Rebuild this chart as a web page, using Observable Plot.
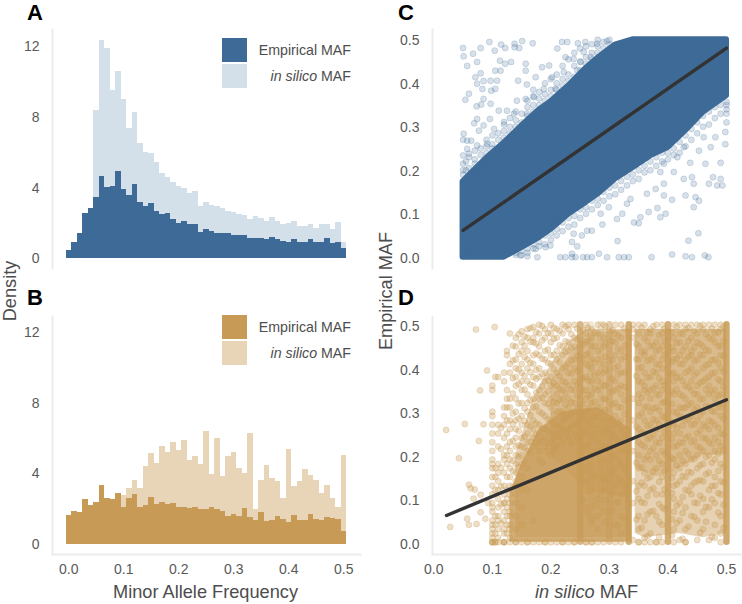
<!DOCTYPE html>
<html><head><meta charset="utf-8">
<script src="https://cdn.jsdelivr.net/npm/d3@7"></script>
<script src="https://cdn.jsdelivr.net/npm/@observablehq/plot@0.6"></script>
<style>
html,body{margin:0;background:#fff}
#chart{position:relative;width:742px;height:604px;overflow:hidden;font-family:"Liberation Sans",Arial,sans-serif;color:#4d4d4d}
#chart svg{position:absolute;background:none}
.tag{position:absolute;font-weight:bold;font-size:22px;line-height:22px;color:#000}
.title{position:absolute;font-size:18.2px;line-height:20px;white-space:nowrap;color:#4d4d4d}
.sw{position:absolute;width:25px;height:24px}
.lg{position:absolute;right:391px;font-size:14.2px;line-height:16px;white-space:nowrap;color:#4d4d4d}
</style></head><body><div id="chart"></div>
<script>
const binStart=[0,.01,.02,.03,.04,.05,.06,.07,.08,.09,.1,.11,.12,.13,.14,.15,.16,.17,.18,.19,.2,.21,.22,.23,.24,.25,.26,.27,.28,.29,.3,.31,.32,.33,.34,.35,.36,.37,.38,.39,.4,.41,.42,.43,.44,.45,.46,.47,.48,.49,.5];
const aEmpirical=[.45,.9,1.43,2.57,2.85,3.45,4.66,4.06,4.11,4.92,3.92,3.58,4.19,3.17,2.98,3.13,2.7,2.5,2.58,2.2,2.02,2.13,1.96,1.94,1.47,1.68,1.57,1.42,1.45,1.45,1.32,1.32,1.32,1.17,1.17,1.17,1.09,1.19,1.08,.96,.94,1.09,.92,.92,1.09,.92,.94,1.13,.87,.92,.57];
const aInSilico=[0,0,0,0,0,8.38,12.34,11.92,9.5,10.6,9,7.36,8.26,6.53,6.04,5.98,5.43,4.83,4.62,4.34,4.09,3.96,3.7,3.79,2.94,3.17,3,2.96,2.85,2.66,2.6,2.53,2.43,2.25,2.42,2.28,2.1,2.36,2.1,1.94,2,2.13,1.85,1.85,1.96,1.74,1.92,1.96,1.68,2.04,.9];
const bEmpirical=[1.64,1.85,1.8,2.51,2.17,2.34,3.34,2.6,2.53,2.87,2.1,2.59,2.81,2.11,2.17,2.64,2.27,2.34,2.27,2.3,2.11,2.1,2.02,2.06,1.98,1.96,2.11,1.95,1.87,1.57,1.66,1.55,2.02,1.53,1.32,1.78,1.3,1.34,1.6,1.38,1.21,1.64,1.34,1.36,1.7,1.38,1.32,1.49,1.45,1.42,.7];
const bInSilico=[0,0,0,0,0,0,0,0,0,0,2.74,3.19,3.6,3.17,4.42,5.14,4.57,5.55,5.2,5.78,5.3,5.9,4.76,4.95,4.54,6.4,3.97,6,3.82,5,5.22,4.29,4,6.3,1.96,3.6,4.46,3.72,3.57,2.59,5.38,3.25,3.55,4.23,3.91,3.6,2.87,3.35,2.59,2.11,5.03];
const histTicksY=[0,4,8,12], mafTicks=[0,.1,.2,.3,.4,.5];

const cBandX=[.05,.07,.09,.12,.15,.18,.2,.23,.26,.28,.31,.34,.37,.4,.43,.46,.48,.5];
const cBandTop=[.173,.2,.227,.262,.301,.338,.357,.393,.434,.457,.488,.5,.5,.5,.5,.5,.5,.5];
const cBandBottom=[0,0,0,0,.022,.045,.064,.099,.126,.145,.18,.206,.233,.252,.291,.333,.352,.371];
const cOutX=[.05,.051,.057,.067,.08,.095,.115,.104,.122,.138,.138,.151,.169,.146,.074,.113,.122,.132,.105,.114,.08,.157,.157,.071,.085,.097,.108,.074,.083,.098,.105,.144,.159,.174,.06,.054,.085,.073,.081,.097,.111,.125,.142,.157,.074,.096,.069,.051,.05,.057,.064,.077,.085,.103,.12,.074,.05,.06,.091,.057,.185,.197,.211,.219,.228,.246,.259,.279,.296,.225,.222,.239,.245,.202,.188,.171,.208,.137,.159,.256,.268,.251,.498,.481,.49,.477,.49,.47,.484,.493,.464,.438,.453,.473,.427,.441,.444,.43,.447,.453,.444,.407,.387,.396,.382,.367,.353,.342,.35,.393,.379,.393,.364,.336,.33,.322,.313,.452,.435,.314,.288,.27,.253,.236,.245,.191,.199,.216,.225,.236,.236,.242,.255,.262,.27,.282,.296,.316,.325,.333,.372,.407,.43,.441,.463,.469,.177,.16,.148,.174,.239,.262,.285,.299,.41,.387,.393,.416,.427,.461,.498,.5,.5,.5];
const cOutY=[.481,.462,.44,.468,.481,.495,.489,.475,.481,.491,.483,.497,.492,.481,.449,.452,.445,.449,.429,.429,.423,.445,.429,.414,.405,.406,.406,.399,.387,.383,.387,.406,.397,.414,.376,.362,.364,.347,.351,.353,.337,.337,.36,.364,.318,.318,.308,.284,.27,.268,.268,.291,.303,.295,.311,.257,.234,.238,.261,.249,.437,.441,.48,.495,.495,.492,.495,.491,.497,.46,.426,.456,.43,.414,.387,.368,.387,.33,.33,.472,.46,.449,.26,.276,.217,.184,.18,.169,.165,.165,.215,.217,.245,.253,.18,.184,.169,.142,.138,.13,.115,.132,.092,.1,.113,.104,.092,.08,.078,.142,.157,.169,.146,.134,.123,.1,.088,.055,.038,.037,.075,.061,.05,.035,.025,.023,.027,0,0,.008,0,0,0,0,0,.008,0,0,0,0,0,.006,.002,0,.004,0,0,.002,.004,.019,.054,.061,.1,.115,.196,.196,.215,.23,.253,.276,.288,.357,.34,.31];
const cEdgeX=[.05,.05,.05,.055,.055,.06,.06,.07,.07,.07,.08,.08,.09,.09,.09,.1,.1,.1,.11,.11,.12,.12,.12,.13,.13,.13,.14,.14,.14,.15,.15,.16,.16,.16,.17,.17,.17,.17,.18,.18,.18,.19,.19,.19,.2,.2,.2,.21,.21,.21,.22,.22,.22,.23,.23,.23,.24,.24,.24,.25,.25,.25,.26,.26,.26,.27,.27,.27,.28,.28,.28,.29,.29,.3,.3,.14,.14,.15,.15,.16,.16,.17,.17,.18,.18,.19,.19,.2,.2,.21,.21,.22,.22,.23,.23,.24,.24,.25,.25,.26,.26,.27,.27,.28,.28,.29,.29,.3,.3,.31,.31,.32,.32,.33,.33,.34,.34,.35,.35,.36,.36,.37,.37,.38,.38,.39,.39,.4,.4,.41,.41,.42,.42,.43,.43,.44,.44,.45,.45,.46,.46,.47,.47,.48,.48,.49,.49,.5,.5];
const cEdgeY=[.19,.2,.215,.2,.22,.205,.23,.215,.225,.245,.235,.25,.24,.255,.27,.25,.26,.28,.27,.285,.275,.29,.305,.285,.3,.32,.3,.315,.335,.31,.33,.325,.345,.36,.335,.35,.37,.385,.35,.365,.38,.36,.375,.4,.37,.385,.41,.385,.4,.42,.395,.41,.44,.405,.42,.455,.415,.44,.47,.43,.45,.48,.445,.46,.485,.455,.47,.49,.47,.485,.5,.48,.495,.49,.5,.01,.005,.005,.015,.01,.02,.02,.03,.025,.035,.03,.05,.04,.055,.05,.065,.06,.08,.07,.09,.075,.095,.09,.11,.1,.115,.11,.13,.12,.135,.13,.15,.14,.16,.145,.165,.155,.175,.165,.185,.175,.19,.18,.2,.195,.21,.2,.22,.21,.23,.22,.24,.225,.24,.235,.25,.24,.265,.255,.28,.27,.295,.285,.31,.3,.325,.305,.335,.32,.345,.33,.35,.33,.35];
const cFitX=[.05,.5], cFitY=[.0615,.481];

const dFitX=[.0216,.5], dFitY=[.0615,.3275];
const dSolidX=[.13,.15,.18,.22,.28,.337];
const dSolidTop=[.11,.18,.26,.3,.31,.26];
const dHazeX=[.14,.17,.2,.23,.26,.338,.344,.36,.42,.46,.5];
const dHazeTop=[.2,.33,.41,.46,.49,.49,.49,.49,.49,.49,.49];
const dHazeBottom=[.01,.01,.01,.01,.01,.01,.02,.01,.02,.01,.02];
const dHazeSide=[0,0,0,0,0,0,1,1,1,1,1];
const dUpperX=[.2,.26,.338,.344,.38,.42,.46,.5];
const dUpperTop=[.37,.48,.49,.49,.49,.49,.49,.49];
const dUpperBottom=[.2,.12,.1,.17,.15,.17,.2,.2];
const dUpperSide=[0,0,0,1,1,1,1,1];
const dStripeX=[.25,.268,.3,.333,.4,.5,.285];
const dStripeLow=[0,.04,0,0,0,0,.08];
const dStripeHigh=[.5,.5,.5,.5,.5,.5,.5];
const dStripeAlpha=[.7,.25,.5,.8,.8,.85,.25];
const dLooseX=[.021,.053,.072,.104,.091,.079,.085,.077,.043,.06,.063,.07,.08,.068,.08,.057,.06,.073,.028,.088,.093];
const dLooseY=[.258,.272,.489,.495,.395,.349,.271,.233,.193,.132,.124,.121,.109,.1,.069,.054,.04,.042,.035,.054,.09];
const dColX=[.1,.105,.11,.12,.125,.13,.14,.15,.16,.17,.18,.19,.2,.21,.22,.23,.24,.26,.27,.28,.29,.31,.32,.34,.35,.36,.37,.38,.39,.41,.42,.43,.44,.45,.46,.47,.48,.49];
const dColY=[
[.36,.35,.3,.29,.27,.25,.23,.21,.19,.18,.17,.15,.13,.11,.09,.08,.07,.05,.04,.03,.02,.01,0,0,0],
[.38,.17,.15,.12,.06,.04,.02,0,0],
[.38,.27,.25,.22,.18,.16,.14,.12,.1,.08,.06,.05,.03,.01,0],
[.39,.37,.31,.29,.27,.24,.2,.19,.16,.13,.11,.09,.09,.07,.05,.03,.02,0,0,0],
[.44,.43,.35,.33,.31,.28,.25,.22,.2,.18,.15,.12,.1,.08,.06,.04,.02],
[.48,.41,.39,.33,.31,.28,.26,.23,.21,.19,.17,.15,.13,.11,.09,.07,.06,.04,.03,.01,0],
[.47,.45,.42,.4,.38,.36,.33,.3,.28,.26,.24,.22,.2,.18,.16,.14,.13,.11,.09,.06,.03,0,0],
[.485,.46,.44,.41,.39,.37,.35,.32,.29,.27,.24,.22,.2,.18,.15,.12,.08,.04,0],
[.49,.47,.44,.42,.4,.37,.34,.32,.3,.27,.25,.23,.21,.17,.12,0,0],
[.495,.47,.46,.43,.41,.38,.36,.33,.31,.28,.26,.24,.22,.05,0],
[.5,.48,.45,.43,.4,.38,.35,.33,.3,.27,.25,.23,.21,.19,0],
[.49,.47,.44,.42,.39,.37,.34,.32,.29,.26,.24,.22,0,0],
[.5,.48,.46,.43,.41,.38,.36,.33,.31,.28,.25,.23,.2,0],
[.49,.47,.44,.42,.39,.36,.34,.32,.3,.27,.25,.22,0],
[.5,.48,.45,.43,.4,.37,.35,.33,.3,.28,.26,.23,0,0],
[.5,.49,.46,.44,.41,.39,.36,.33,.31,.29,.26,.24,0],
[.5,.47,.45,.42,.4,.37,.35,.32,.3,.27,.25,0,0],
[.5,.48,.46,.43,.41,.38,.35,.33,.3,.28,.25,.22,.14,.08,0,0],
[.49,.47,.45,.42,.4,.37,.34,.32,.29,.27,.24,.2,.16,.12,.05,0,0],
[.5,.48,.44,.42,.39,.37,.35,.31,.29,.26,.23,.21,.1,.06,.03,0],
[.5,.47,.45,.41,.39,.36,.33,.3,.28,.25,.22,.19,.15,.12,.07,0],
[.5,.48,.46,.43,.4,.37,.35,.32,.29,.27,.24,.2,.17,.13,.09,.04,0],
[.5,.47,.44,.42,.39,.36,.34,.31,.28,.26,.23,.21,.18,.14,.11,.06,.02,0],
[.5,.49,.47,.33,.28,.21,.14,.09,.005],
[.5,.48,.45,.42,.4,.37,.34,.32,.29,.26,.23,.2,.17,.13,.1,.06,.03,0,0],
[.5,.47,.44,.43,.39,.36,.35,.31,.28,.25,.22,.19,.16,.13,.09,.05,.01,0],
[.49,.48,.45,.42,.38,.35,.33,.3,.27,.24,.21,.19,.15,.12,.07,.02,0],
[.5,.46,.44,.41,.39,.36,.34,.31,.28,.26,.23,.2,.17,.11,.06,0,0],
[.5,.48,.45,.42,.4,.37,.35,.32,.29,.24,.21,.18,.15,.11,.08,.04,0],
[.5,.47,.44,.42,.39,.37,.34,.3,.27,.25,.22,.19,.16,.13,.1,.07,.03,0],
[.5,.48,.46,.43,.41,.38,.34,.31,.29,.25,.23,.2,.17,.14,.09,.05,.005],
[.5,.49,.45,.42,.39,.36,.33,.31,.28,.24,.21,.18,.15,.12,.08,.03,0,0],
[.5,.47,.44,.43,.4,.37,.35,.32,.29,.27,.23,.19,.16,.13,.11,.06],
[.5,.48,.46,.42,.39,.36,.34,.31,.28,.25,.22,.2,.17,.14,.09,.05,.005],
[.5,.49,.45,.43,.4,.37,.33,.3,.27,.24,.21,.18,.14,.1,.07,.03],
[.5,.47,.44,.41,.38,.36,.34,.31,.28,.26,.23,.2,.16,.12,.08,.005],
[.5,.48,.46,.42,.39,.35,.33,.3,.27,.24,.21,.19,.15,.13,.09,.04,.01],
[.5,.49,.45,.43,.4,.37,.34,.31,.29,.25,.22,.18,.14,.11,.06,.02,0]
];
const dMidX=[.115,.135,.145,.155,.165,.175,.185,.195,.205,.215,.225,.235,.245,.255,.263,.275,.293,.305,.315,.326,.346,.355,.365,.375,.385,.394,.407,.415,.425,.435,.445,.455,.465,.475,.486,.495];
const dMidY=[
[.263,.214,.171,.128,.087,.043],
[.452,.418,.377,.342,.296,.272,.233,.187,.164,.127],
[.478,.433,.397,.364,.319,.284,.256,.223,.196,.173],
[.473,.452,.426,.383,.351,.308,.279,.243,.217,.186],
[.492,.461,.413,.391,.362,.327,.292,.266,.231,.204],
[.483,.457,.434,.396,.376,.344,.312,.273,.247,.228],
[.497,.464,.422,.387,.358,.333,.296,.262,.234,.183],
[.481,.443,.413,.372,.347,.318,.283,.256,.227,.209],
[.493,.468,.431,.398,.366,.323,.294,.271,.238,.214],
[.486,.453,.414,.382,.353,.327,.302,.264,.243],
[.496,.462,.437,.403,.368,.344,.316,.287,.253],
[.478,.447,.418,.388,.351,.322,.298,.266,.229],
[.491,.466,.429,.394,.363,.336,.308,.274,.241],
[.487,.454,.421,.377,.349,.318,.293,.256,.212,.163,.096],
[.493,.463,.434,.406,.372,.338,.307,.268,.226,.176,.118,.067],
[.482,.451,.413,.384,.354,.323,.287,.247,.207,.152,.084],
[.496,.457,.426,.396,.361,.329,.304,.263,.218,.143,.097,.046],
[.488,.463,.418,.376,.346,.317,.282,.251,.196,.157,.112,.072],
[.475,.445,.405,.386,.354,.311,.276,.234,.187,.146,.093,.038],
[.492,.452,.427,.391,.357,.326,.295,.246,.213,.168,.127,.054],
[.456,.421,.382,.266,.183,.117,.052],
[.494,.437,.403,.368,.332,.296,.253,.224,.172,.137,.092,.033],
[.483,.462,.417,.379,.344,.312,.268,.237,.198,.147,.106,.064,.014],
[.497,.452,.425,.393,.354,.308,.283,.246,.216,.163,.124,.072],
[.476,.443,.408,.377,.338,.303,.272,.228,.187,.139,.088,.047,.012],
[.491,.464,.432,.361,.323,.286,.254,.203,.164,.122,.076],
[.483,.447,.414,.386,.347,.318,.276,.237,.193,.148,.113,.053,.016],
[.496,.458,.423,.378,.352,.297,.263,.222,.176,.133,.084,.044],
[.479,.441,.409,.371,.336,.308,.268,.228,.187,.152,.104,.067,.008],
[.493,.463,.427,.394,.357,.316,.283,.244,.203,.162,.118,.036],
[.486,.448,.416,.384,.341,.304,.271,.234,.192,.137,.091,.058],
[.497,.456,.431,.367,.328,.293,.257,.217,.177,.143,.107,.022],
[.478,.442,.407,.376,.351,.313,.266,.238,.196,.156,.081,.047],
[.491,.466,.419,.388,.346,.301,.277,.226,.183,.129,.098,.012],
[.483,.451,.413,.374,.337,.312,.263,.231,.204,.164,.113,.068],
[.496,.462,.428,.392,.357,.318,.284,.247,.212,.173,.137,.086,.033]
];

const blue="#3d6a97", blueLight="#d3e0ea", tan="#c79a55", tanLight="#e8d5b7", edge="#ececec", ink="#595959";
const chart=document.getElementById("chart");
const rows=(e,s)=>binStart.map((b,i)=>({x1:b-.005,x2:b+.005,e:e[i],s:s[i]}));
const font="'Liberation Sans',Arial,sans-serif";

function histogram(e,s,c,cl,top,height,mT,mB,y0,y12,bottom){
  const t=rows(e,s);
  return Plot.plot({width:370,height,marginLeft:52,marginRight:10,marginTop:mT,marginBottom:mB,
    style:{left:"0px",top:top+"px",fontFamily:font},
    x:{domain:[0,.5],range:[68.3,343.3]},y:{domain:[0,12],range:[y0,y12]},
    marks:[
      Plot.rect(t,{x1:"x1",x2:"x2",y1:0,y2:"s",fill:cl,shapeRendering:"crispEdges"}),
      Plot.rect(t,{x1:"x1",x2:"x2",y1:0,y2:"e",fill:c,shapeRendering:"crispEdges"}),
      Plot.frame({anchor:"left",stroke:edge,strokeWidth:2}),
      ...(bottom?[Plot.frame({anchor:"bottom",stroke:edge,strokeWidth:2}),
        Plot.axisX({ticks:mafTicks,tickFormat:".1f",tickSize:0,tickPadding:10,label:null,fontSize:14,color:ink})]:[Plot.axisX({ticks:[],label:null})]),
      Plot.axisY({ticks:histTicksY,tickFormat:"d",tickSize:0,tickPadding:13,label:null,fontSize:14,color:ink})
    ]});
}
function axes(bottom,yShift){
  return [Plot.frame({anchor:"left",stroke:edge,strokeWidth:2}),
    ...(bottom?[Plot.frame({anchor:"bottom",stroke:edge,strokeWidth:2}),
      Plot.axisX({ticks:mafTicks,tickFormat:".1f",tickSize:0,tickPadding:10,label:null,fontSize:14,color:ink})]:[Plot.axisX({ticks:[],label:null})]),
    Plot.axisY({ticks:mafTicks,tickFormat:".1f",tickSize:0,tickPadding:13,label:null,fontSize:14,color:ink,dy:yShift})];
}
const dot={r:3,strokeWidth:.8};
const cTable=cBandX.map((x,i)=>({x,t:cBandTop[i],b:cBandBottom[i]}));
const cOut=cOutX.map((x,i)=>({x,y:cOutY[i]})).concat(cEdgeX.map((x,i)=>({x,y:cEdgeY[i]})));
const panelC=Plot.plot({width:372,height:285,marginLeft:62,marginRight:2,marginTop:29,marginBottom:17,
  style:{left:"370px",top:"0px",fontFamily:font},
  x:{domain:[0,.5],range:[63.3,356]},y:{domain:[0,.5],range:[256.7,39.3]},
  marks:[
    Plot.dot(cOut,{x:"x",y:"y",fill:blue,stroke:blue,fillOpacity:.2,strokeOpacity:.25,...dot}),
    Plot.areaY(cTable,{x:"x",y1:"b",y2:"t",fill:blue,stroke:blue,strokeWidth:6,strokeLinejoin:"round"}),
    Plot.line(cFitX.map((x,i)=>({x,y:cFitY[i]})),{x:"x",y:"y",stroke:"#333",strokeWidth:3.4}),
    ...axes(false,1)
  ]});
const dPts=dColX.flatMap((x,i)=>dColY[i].map(y=>({x,y})))
  .concat(dMidX.flatMap((x,i)=>dMidY[i].map(y=>({x,y}))))
  .concat(dLooseX.map((x,i)=>({x,y:dLooseY[i]})));
const panelD=Plot.plot({width:372,height:319,marginLeft:62,marginRight:2,marginTop:31,marginBottom:50,
  style:{left:"370px",top:"285px",fontFamily:font},
  x:{domain:[0,.5],range:[63.3,356]},y:{domain:[0,.5],range:[256.7,39.3]},
  marks:[
    Plot.areaY(dHazeX.map((x,i)=>({x,t:dHazeTop[i],b:dHazeBottom[i],z:dHazeSide[i]})),{x:"x",y1:"b",y2:"t",z:"z",fill:tan,fillOpacity:.45}),
    Plot.areaY(dUpperX.map((x,i)=>({x,t:dUpperTop[i],b:dUpperBottom[i],z:dUpperSide[i]})),{x:"x",y1:"b",y2:"t",z:"z",fill:tan,fillOpacity:.4}),
    Plot.areaY(dSolidX.map((x,i)=>({x,t:dSolidTop[i]})),{x:"x",y1:0,y2:"t",fill:tan,fillOpacity:.8}),
    Plot.ruleX(dStripeX.map((x,i)=>({x,a:dStripeLow[i],b:dStripeHigh[i],o:dStripeAlpha[i]})),{x:"x",y1:"a",y2:"b",stroke:tan,strokeWidth:6.4,strokeOpacity:"o",strokeLinecap:"round"}),
    Plot.dot(dPts,{x:"x",y:"y",fill:tan,stroke:tan,fillOpacity:.32,strokeOpacity:.35,...dot}),
    Plot.line(dFitX.map((x,i)=>({x,y:dFitY[i]})),{x:"x",y:"y",stroke:"#333",strokeWidth:3.4}),
    ...axes(true,2)
  ]});
chart.append(
  histogram(aEmpirical,aInSilico,blue,blueLight,0,285,29,17,258.3,46.3,false),
  histogram(bEmpirical,bInSilico,tan,tanLight,285,319,31,50,258.7,47.3,true),
  panelC,panelD);
function add(cls,html,css){const d=document.createElement("div");d.className=cls;d.innerHTML=html;d.style.cssText=css;chart.append(d);}
add("tag","A","left:27px;top:2px");add("tag","B","left:27px;top:287px");add("tag","C","left:398px;top:2px");add("tag","D","left:398px;top:287px");
add("sw","",`left:222px;top:38px;background:${blue}`);add("sw","",`left:222px;top:64px;background:${blueLight}`);
add("sw","",`left:222px;top:315px;background:${tan}`);add("sw","",`left:222px;top:341px;background:${tanLight}`);
add("lg","Empirical MAF","top:42px");add("lg","<i>in silico</i> MAF","top:68px");
add("lg","Empirical MAF","top:319px");add("lg","<i>in silico</i> MAF","top:345px");
add("title","Minor Allele Frequency","left:113px;top:582px");
add("title","<i>in silico</i> MAF","left:535px;top:582px");
add("title","Density","left:10px;top:291px;transform:translate(-50%,-50%) rotate(-90deg)");
add("title","Empirical MAF","left:386px;top:291px;transform:translate(-50%,-50%) rotate(-90deg)");
</script></body></html>
